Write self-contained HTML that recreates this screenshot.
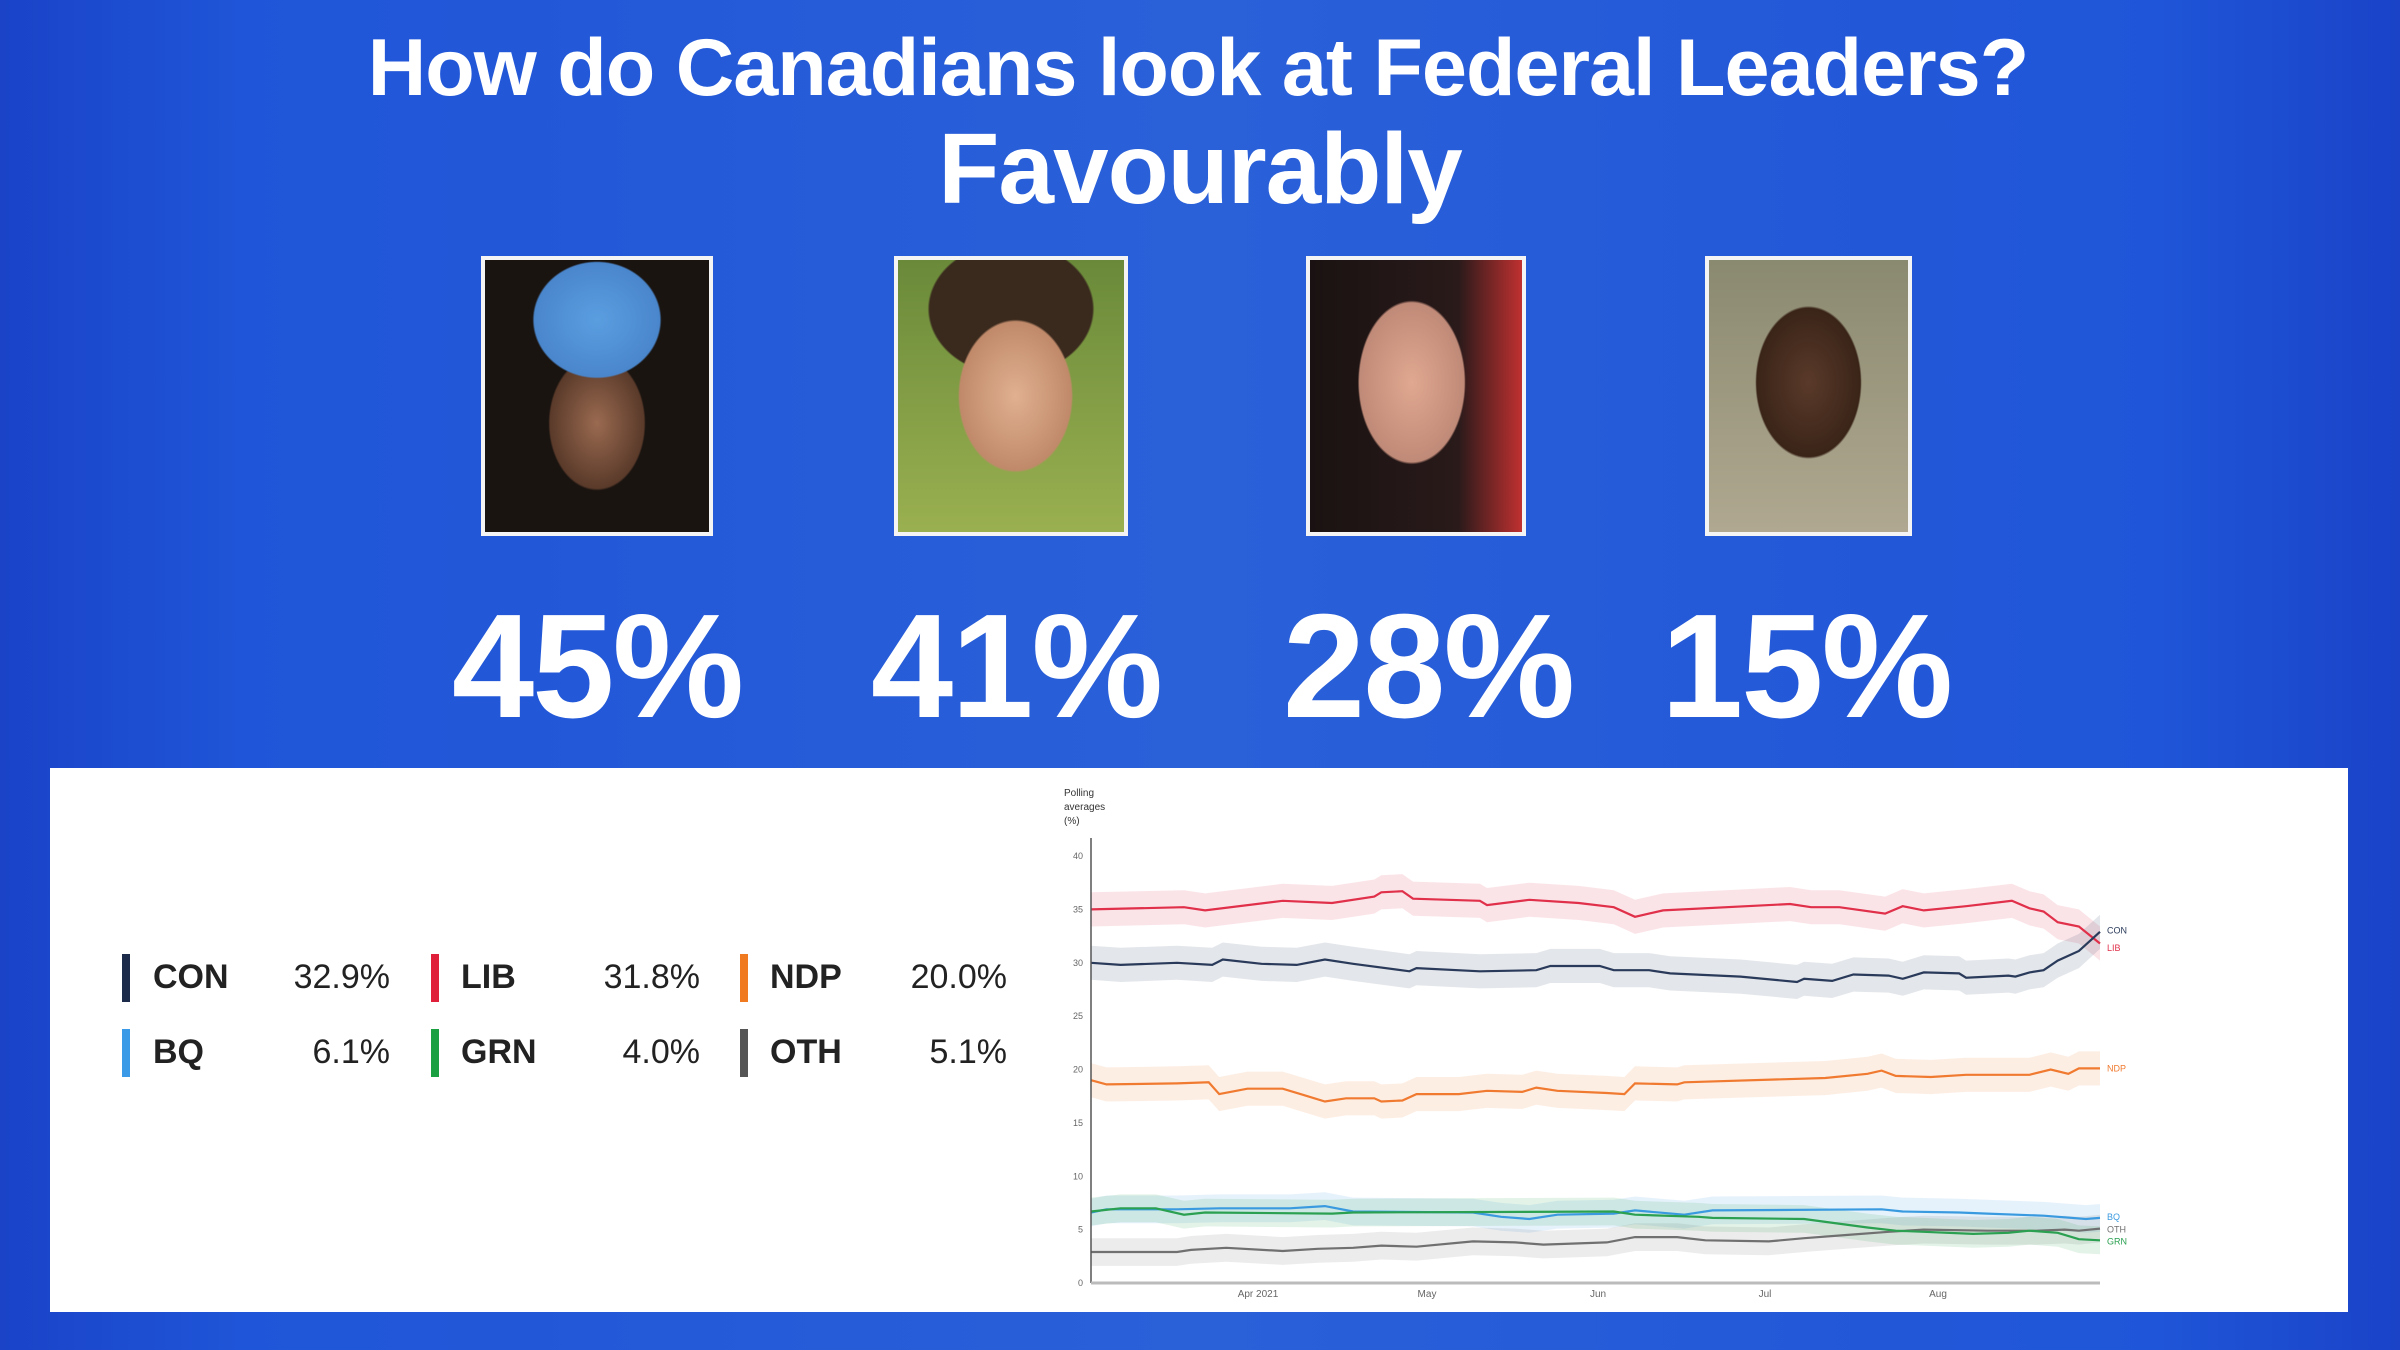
<!DOCTYPE html>
<html><head><meta charset="utf-8"><style>
html,body{margin:0;padding:0}
body{width:2400px;height:1350px;position:relative;overflow:hidden;font-family:"Liberation Sans",sans-serif;
background:linear-gradient(90deg,#1a43c8 0%,#1f55d8 10%,#2a60d8 50%,#1f55d8 90%,#1a43c8 100%);}
.t{position:absolute;left:0;width:2400px;text-align:center;color:#fff;font-weight:bold;letter-spacing:-1px}
.ph{position:absolute;border:4px solid #f4f4f4;box-sizing:border-box}
.pc{position:absolute;top:582px;color:#fff;font-weight:bold;font-size:148px;text-align:center;width:400px;letter-spacing:-2px}
.panel{position:absolute;left:50px;top:768px;width:2298px;height:544px;background:#fff}
.lg{position:absolute;font-size:34px;color:#222}
.bar{position:absolute;width:8px;height:48px}
</style></head><body>
<div class="t" style="top:22px;font-size:81px;left:-2px">How do Canadians look at Federal Leaders?</div>
<div class="t" style="top:112px;font-size:100px">Favourably</div>

<div class="ph" style="left:481px;top:256px;width:232px;height:280px;background:radial-gradient(ellipse 40% 30% at 50% 22%,#5a9ee0 0%,#4a86cc 70%,transparent 72%),radial-gradient(ellipse 35% 40% at 50% 60%,#9a6a50 0%,#5a3a2a 60%,transparent 62%),#1a1410"></div>
<div class="ph" style="left:894px;top:256px;width:234px;height:280px;background:radial-gradient(ellipse 38% 42% at 52% 50%,#e0b090 0%,#c08a6a 65%,transparent 67%),radial-gradient(ellipse 45% 30% at 50% 18%,#3a2a1e 0%,#3a2a1e 80%,transparent 82%),linear-gradient(#6a8a3a,#9ab050)"></div>
<div class="ph" style="left:1306px;top:256px;width:220px;height:280px;background:radial-gradient(ellipse 38% 45% at 48% 45%,#e0a890 0%,#c08a78 65%,transparent 67%),linear-gradient(90deg,#1a1212 0%,#2a1a1a 70%,#c03030 100%)"></div>
<div class="ph" style="left:1705px;top:256px;width:207px;height:280px;background:radial-gradient(ellipse 40% 42% at 50% 45%,#5a3a2a 0%,#3a2418 65%,transparent 67%),linear-gradient(#8a8a70,#b0a890)"></div>

<div class="pc" style="left:397px">45%</div>
<div class="pc" style="left:816px">41%</div>
<div class="pc" style="left:1228px">28%</div>
<div class="pc" style="left:1606px">15%</div>

<div class="panel"></div>
<div class="bar" style="left:122px;top:954px;background:#1c2b4a"></div>
<div class="lg" style="left:153px;top:958px;font-weight:bold">CON</div>
<div class="lg" style="left:250px;top:958px;width:140px;text-align:right">32.9%</div>
<div class="bar" style="left:431px;top:954px;background:#e0203a"></div>
<div class="lg" style="left:461px;top:958px;font-weight:bold">LIB</div>
<div class="lg" style="left:560px;top:958px;width:140px;text-align:right">31.8%</div>
<div class="bar" style="left:740px;top:954px;background:#f07a20"></div>
<div class="lg" style="left:770px;top:958px;font-weight:bold">NDP</div>
<div class="lg" style="left:867px;top:958px;width:140px;text-align:right">20.0%</div>
<div class="bar" style="left:122px;top:1029px;background:#3a9ae8"></div>
<div class="lg" style="left:153px;top:1033px;font-weight:bold">BQ</div>
<div class="lg" style="left:250px;top:1033px;width:140px;text-align:right">6.1%</div>
<div class="bar" style="left:431px;top:1029px;background:#1aa040"></div>
<div class="lg" style="left:461px;top:1033px;font-weight:bold">GRN</div>
<div class="lg" style="left:560px;top:1033px;width:140px;text-align:right">4.0%</div>
<div class="bar" style="left:740px;top:1029px;background:#555"></div>
<div class="lg" style="left:770px;top:1033px;font-weight:bold">OTH</div>
<div class="lg" style="left:867px;top:1033px;width:140px;text-align:right">5.1%</div>

<svg id="ch" width="2400" height="1350" style="position:absolute;left:0;top:0" font-family="Liberation Sans, sans-serif">
<text x="1064" y="796" font-size="10" fill="#333">Polling</text>
<text x="1064" y="810" font-size="10" fill="#333">averages</text>
<text x="1064" y="824" font-size="10" fill="#333">(%)</text>
<g id="g"></g>
<line x1="1091" y1="838" x2="1091" y2="1283" stroke="#555" stroke-width="1.5"/>
<line x1="1091" y1="1283" x2="2100" y2="1283" stroke="#bbb" stroke-width="3"/>
<g font-size="10" fill="#666" text-anchor="middle">
<text x="1258" y="1297">Apr 2021</text><text x="1427" y="1297">May</text><text x="1598" y="1297">Jun</text><text x="1765" y="1297">Jul</text><text x="1938" y="1297">Aug</text>
</g>
</svg>
<script>
var X=function(z){return 1091+(z-58)/1432*1009},Y=function(v){return 1283-v*10.675};
var S=[
["#e0304a",[[58,35],[190,35.2],[220,34.9],[330,35.8],[400,35.6],[460,36.2],[470,36.6],[500,36.7],[515,36],[610,35.8],[620,35.4],[680,35.9],[750,35.6],[800,35.2],[830,34.3],[870,34.9],[1050,35.5],[1080,35.2],[1120,35.2],[1185,34.6],[1210,35.3],[1240,34.9],[1300,35.3],[1365,35.8],[1390,35.1],[1410,34.8],[1430,33.8],[1460,33.4],[1490,31.8]],"LIB",31.4],
["#2a3a5a",[[58,30],[100,29.8],[180,30],[230,29.8],[245,30.3],[300,29.9],[350,29.8],[390,30.3],[430,29.9],[510,29.2],[520,29.5],[610,29.2],[690,29.3],[710,29.7],[780,29.7],[800,29.3],[850,29.3],[880,29],[980,28.7],[1060,28.2],[1070,28.5],[1110,28.3],[1140,28.9],[1190,28.8],[1210,28.5],[1240,29.1],[1290,29],[1300,28.6],[1360,28.8],[1370,28.7],[1390,29.1],[1410,29.3],[1430,30.2],[1460,31.1],[1490,32.9]],"CON",33],
["#f07a30",[[58,19],[80,18.6],[180,18.7],[225,18.8],[240,17.7],[280,18.2],[330,18.2],[360,17.6],[390,17],[420,17.3],[460,17.3],[470,17],[500,17.1],[520,17.7],[580,17.7],[620,18],[670,17.9],[690,18.3],[720,18],[790,17.8],[815,17.7],[830,18.7],[890,18.6],[900,18.8],[1100,19.2],[1160,19.6],[1180,19.9],[1200,19.4],[1250,19.3],[1300,19.5],[1360,19.5],[1390,19.5],[1420,20.0],[1445,19.6],[1460,20.1],[1490,20.1]],"NDP",20.1],
["#3a9ae0",[[58,6.6],[80,6.9],[180,6.9],[240,7],[340,7],[390,7.2],[430,6.7],[600,6.6],[640,6.2],[680,6],[720,6.4],[800,6.5],[830,6.8],[900,6.4],[940,6.8],[1180,6.9],[1210,6.7],[1290,6.6],[1330,6.5],[1410,6.3],[1470,6],[1490,6.1]],"BQ",6.2],
["#707070",[[58,2.9],[180,2.9],[200,3.1],[250,3.3],[330,3],[380,3.2],[430,3.3],[470,3.5],[520,3.4],[600,3.9],[660,3.8],[700,3.6],[790,3.8],[830,4.3],[890,4.3],[930,4],[1020,3.9],[1070,4.2],[1130,4.5],[1190,4.8],[1240,5.0],[1330,4.9],[1400,4.9],[1440,5],[1460,4.9],[1490,5.1]],"OTH",5.0],
["#2aa050",[[58,6.7],[100,7],[150,7],[190,6.4],[220,6.6],[400,6.5],[430,6.6],[800,6.7],[830,6.4],[920,6.2],[940,6.1],[1070,6],[1160,5.2],[1200,4.9],[1240,4.8],[1310,4.6],[1360,4.7],[1390,4.9],[1430,4.7],[1460,4.1],[1490,4.0]],"GRN",3.9]];
var h="",l="";
S.forEach(function(s){var p=s[1],w=(s[2]=="BQ"||s[2]=="GRN"||s[2]=="OTH")?1.3:1.6;
var up=p.map(function(q){return X(q[0]).toFixed(1)+","+Y(q[1]+w).toFixed(1)}),dn=p.slice().reverse().map(function(q){return X(q[0]).toFixed(1)+","+Y(q[1]-w).toFixed(1)});
h+='<polygon points="'+up.join(" ")+" "+dn.join(" ")+'" fill="'+s[0]+'" opacity="0.13"/>';
l+='<polyline points="'+p.map(function(q){return X(q[0]).toFixed(1)+","+Y(q[1]).toFixed(1)}).join(" ")+'" fill="none" stroke="'+s[0]+'" stroke-width="2.2"/>';
l+='<text x="2107" y="'+(Y(s[3])+3).toFixed(1)+'" font-size="9" fill="'+s[0]+'">'+s[2]+'</text>';});
var tk="";for(var v=0;v<=40;v+=5)tk+='<text x="1083" y="'+(Y(v)+3)+'" font-size="9" fill="#666" text-anchor="end">'+v+'</text>';
document.getElementById("g").innerHTML=h+l+tk;
</script>
</body></html>
